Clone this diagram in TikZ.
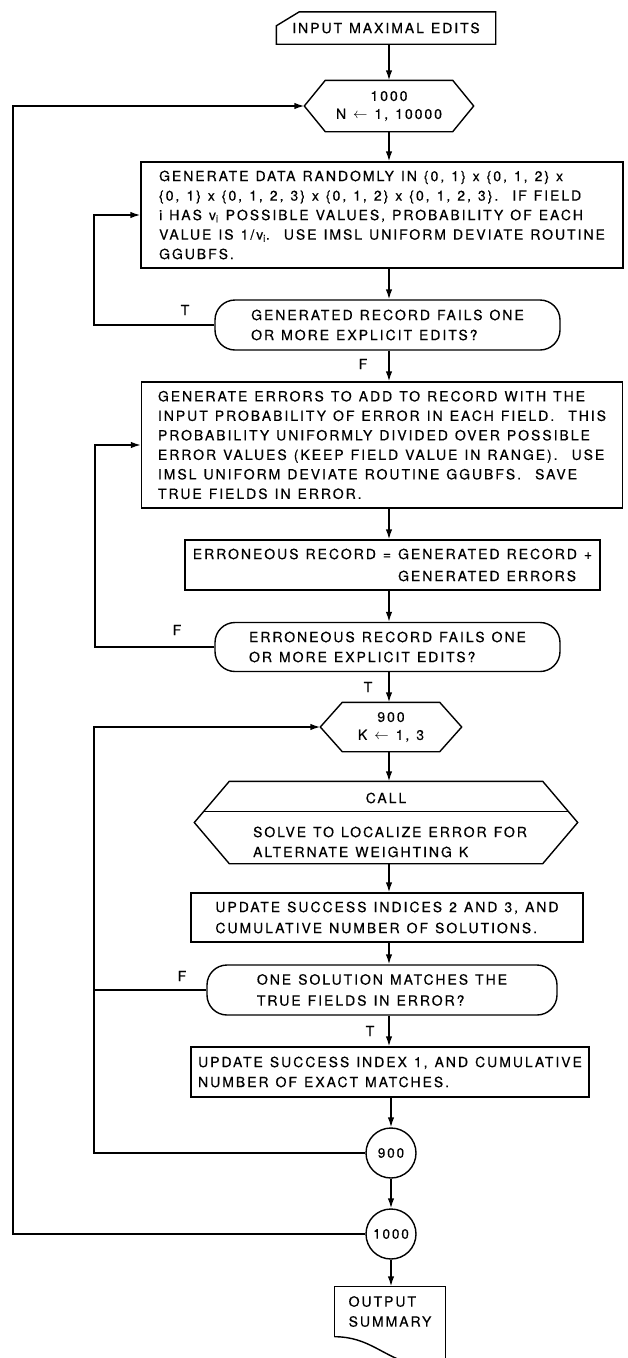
\documentclass[tikz,border=0pt]{standalone}
\usepackage{fontspec}
\setmainfont{TeX Gyre Heros}[LetterSpace=14,WordSpace=1.2,FakeBold=0.4]
\usetikzlibrary{arrows.meta,calc}
\begin{document}
\begin{tikzpicture}[x=1pt,y=-1pt,line width=1.4pt,
  every node/.style={font=\fontsize{14}{20}\selectfont,inner sep=0pt},
  box/.style={draw,rectangle,align=left},
  dec/.style={draw,rounded corners=20pt,align=left},
  plain/.style={rectangle,align=center},
  arr/.style={-{Latex[length=10pt,width=6.5pt]}},
  lbl/.style={font=\fontsize{14}{16}\selectfont}]
\useasboundingbox (0,0) rectangle (628,1358);
\coordinate (col) at (389,0);
\coordinate (lp) at (94,0);
\coordinate (lo) at (13,0);

% input card
\node[plain,minimum width=218,minimum height=31] (inp) at (386,28) {INPUT MAXIMAL EDITS};
\draw (inp.south west) -- ([yshift=-14pt]inp.north west) -- ([xshift=23pt]inp.north west)
  -- (inp.north east) -- (inp.south east) -- cycle;

% hex 1000
\node[plain,minimum width=168,minimum height=50,font=\fontsize{14}{18}\selectfont] (h1) at (389,106) {1000\\N $\leftarrow$ 1, 10000};
\draw (h1.west) -- ([xshift=21pt]h1.north west) -- ([xshift=-21pt]h1.north east) -- (h1.east)
  -- ([xshift=-21pt]h1.south east) -- ([xshift=21pt]h1.south west) -- cycle;

% box 1
\node[box,minimum width=482,minimum height=106,font=\fontsize{14}{19.5}\selectfont] (b1) at (382,215) {GENERATE DATA RANDOMLY IN \{0, 1\} x \{0, 1, 2\} x\\
\{0, 1\} x \{0, 1, 2, 3\} x \{0, 1, 2\} x \{0, 1, 2, 3\}.\ \ IF FIELD\\
i HAS v\textsubscript{i} POSSIBLE VALUES, PROBABILITY OF EACH\\
VALUE IS 1/v\textsubscript{i}.\ \ USE IMSL UNIFORM DEVIATE ROUTINE\\
GGUBFS.};

% decision 1
\node[dec,minimum width=345,minimum height=50] (d1) at (387.5,325) {GENERATED RECORD FAILS ONE\\OR MORE EXPLICIT EDITS?};

% box 2
\node[box,minimum width=481,minimum height=126,font=\fontsize{14}{19.5}\selectfont] (b2) at (382,445) {GENERATE ERRORS TO ADD TO RECORD WITH THE\\
INPUT PROBABILITY OF ERROR IN EACH FIELD.\ \ THIS\\
PROBABILITY UNIFORMLY DIVIDED OVER POSSIBLE\\
ERROR VALUES (KEEP FIELD VALUE IN RANGE).\ \ USE\\
IMSL UNIFORM DEVIATE ROUTINE GGUBFS.\ \ SAVE\\
TRUE FIELDS IN ERROR.};

% box 3
\node[box,minimum width=415,minimum height=50,font=\fontsize{14}{22}\selectfont] (b3) at (392.5,565) {ERRONEOUS RECORD = GENERATED RECORD +\\
\phantom{ERRONEOUS RECORD = }GENERATED ERRORS};

% decision 2
\node[dec,minimum width=345,minimum height=49] (d2) at (387.5,647) {ERRONEOUS RECORD FAILS ONE\\OR MORE EXPLICIT EDITS?};

% hex 900
\node[plain,minimum width=140,minimum height=48,font=\fontsize{14}{18}\selectfont] (h9) at (391,727) {900\\K $\leftarrow$ 1, 3};
\draw (h9.west) -- ([xshift=22pt]h9.north west) -- ([xshift=-22pt]h9.north east) -- (h9.east)
  -- ([xshift=-22pt]h9.south east) -- ([xshift=22pt]h9.south west) -- cycle;

% call hexagon
\node[plain,minimum width=382,minimum height=81] (call) at (386,822.5) {};
\coordinate (cTL) at ([xshift=35pt]call.north west);
\coordinate (cTR) at ([xshift=-35pt]call.north east);
\draw (call.west) -- (cTL) -- (cTR) -- (call.east)
  -- ([xshift=-35pt]call.south east) -- ([xshift=35pt]call.south west) -- cycle;
\draw ($(call.west)!0.26!(cTL)$) -- ($(call.east)!0.26!(cTR)$);
\node[plain] (callT) at (386,798) {CALL};
\node[plain,align=left,font=\fontsize{14}{20}\selectfont] (callB) at (390,842) {SOLVE TO LOCALIZE ERROR FOR\\ALTERNATE WEIGHTING K};

% update 2,3
\node[box,minimum width=392,minimum height=49,font=\fontsize{14}{21}\selectfont] (u23) at (387,917.5) {UPDATE SUCCESS INDICES 2 AND 3, AND\\CUMULATIVE NUMBER OF SOLUTIONS.};

% decision 3
\node[dec,minimum width=350,minimum height=50,font=\fontsize{14}{21}\selectfont] (d3) at (382,990) {ONE SOLUTION MATCHES THE\\TRUE FIELDS IN ERROR?};

% update 1
\node[box,minimum width=398,minimum height=50,font=\fontsize{14}{20}\selectfont] (u1) at (390,1072) {UPDATE SUCCESS INDEX 1, AND CUMULATIVE\\NUMBER OF EXACT MATCHES.};

% connectors circles
\node[draw,circle,minimum size=50,font=\fontsize{13.5}{16}\selectfont] (c9) at (391,1153) {900};
\node[draw,circle,minimum size=50,font=\fontsize{13.5}{16}\selectfont] (c10) at (391,1234) {1000};

% output document
\node[plain,minimum width=110,minimum height=49,align=left] (out) at (390,1311.5) {OUTPUT\\SUMMARY};
\draw (out.south west) -- (out.north west) -- (out.north east) -- ([yshift=-40pt]out.south east);
\draw (out.south west) .. controls ([xshift=35pt]out.south west) and ([xshift=48pt,yshift=-20pt]out.south west) .. ([xshift=80pt,yshift=-28pt]out.south west);

% main flow arrows
\draw[arr] (inp.south -| col) -- (h1.north -| col);
\draw[arr] (h1.south -| col) -- (b1.north -| col);
\draw[arr] (b1.south -| col) -- (d1.north -| col);
\draw[arr] (d1.south -| col) -- (b2.north -| col);
\draw[arr] (b2.south -| col) -- (b3.north -| col);
\draw[arr] (b3.south -| col) -- (d2.north -| col);
\draw[arr] (d2.south -| col) -- (h9.north -| col);
\draw[arr] (h9.south -| col) -- (call.north -| col);
\draw[arr] (call.south -| col) -- (u23.north -| col);
\draw[arr] (u23.south -| col) -- (d3.north -| col);
\draw[arr] (d3.south -| col) -- (u1.north -| col);
\draw[arr] (u1.south -| c9.north) -- (c9.north);
\draw[arr] (c9) -- (c10);
\draw[arr] (c10) -- (out.north -| c10);

% loops
\draw[arr] (d1.west) -- (d1.west -| lp) |- (b1.west);
\draw[arr] (d2.west) -- ([xshift=1pt]d2.west -| lp) |- (b2.west);
\draw[arr] (c9.west) -- (c9.west -| lp) |- (h9.west);
\draw (d3.west) -- (d3.west -| lp);
\draw[arr] (c10.west) -- (c10.west -| lo) |- (h1.west);

% branch labels
\node[lbl] (t1) at (185,310) {T};
\node[lbl] (f1) at (363,364) {F};
\node[lbl] (f2) at (177,630) {F};
\node[lbl] (t2) at (368,687) {T};
\node[lbl] (f3) at (182,976) {F};
\node[lbl] (t3) at (370,1031) {T};
\end{tikzpicture}
\end{document}
